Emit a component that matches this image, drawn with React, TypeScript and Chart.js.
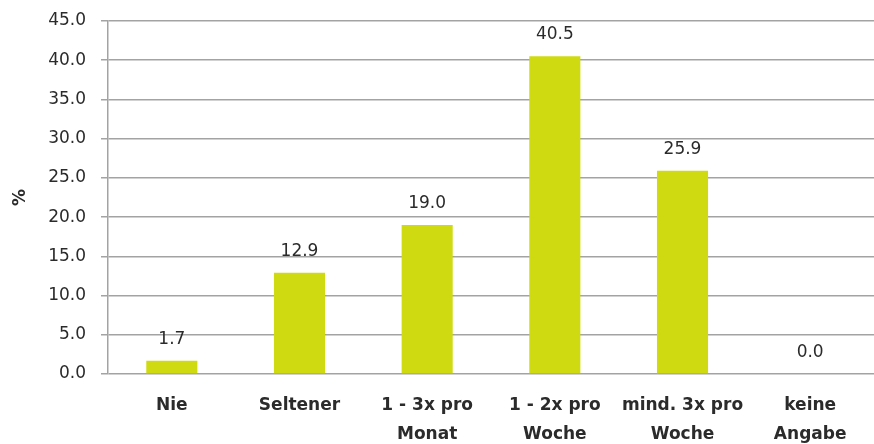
import React, { useEffect, useRef } from "react";
import { Chart, registerables } from "chart.js";

Chart.register(...registerables);

const categories: string[][] = [
  ["Nie"],
  ["Seltener"],
  ["1 - 3x pro", "Monat"],
  ["1 - 2x pro", "Woche"],
  ["mind. 3x pro", "Woche"],
  ["keine", "Angabe"],
];
const values: number[] = [1.7, 12.9, 19.0, 40.5, 25.9, 0.0];
const yTitle = "%";
const yMin = 0;
const yMax = 45;
const yStep = 5;

const FONT = "'DejaVu Sans', Verdana, sans-serif";
const BAR_COLOR = "#cfdb10";
const GRID_COLOR = "#a3a3a3";
const TEXT_COLOR = "#2b2b2b";

const dataLabelPlugin = {
  id: "dataLabels",
  afterDatasetsDraw(chart: any) {
    const ctx = chart.ctx;
    const meta = chart.getDatasetMeta(0);
    ctx.save();
    ctx.font = `17px ${FONT}`;
    ctx.fillStyle = TEXT_COLOR;
    ctx.textAlign = "center";
    ctx.textBaseline = "alphabetic";
    meta.data.forEach((bar: any, i: number) => {
      const v = chart.data.datasets[0].data[i] as number;
      ctx.fillText(v.toFixed(1), bar.x, bar.y - 17);
    });
    ctx.restore();
  },
};

export default function App() {
  const canvasRef = useRef<HTMLCanvasElement | null>(null);

  useEffect(() => {
    document.body.style.margin = "0";
    const canvas = canvasRef.current;
    if (!canvas) return;
    const chart = new Chart(canvas, {
      type: "bar",
      data: {
        labels: categories,
        datasets: [
          {
            data: values,
            backgroundColor: BAR_COLOR,
            borderWidth: 0,
            categoryPercentage: 1,
            barPercentage: 0.4,
          },
        ],
      },
      options: {
        animation: false,
        responsive: true,
        maintainAspectRatio: false,
        layout: { padding: { top: 21, right: 0, bottom: 0, left: 0 } },
        plugins: {
          legend: { display: false },
          tooltip: { enabled: false },
        },
        scales: {
          x: {
            offset: true,
            grid: { display: false, drawTicks: false },
            border: { display: false },
            ticks: {
              color: TEXT_COLOR,
              font: { family: FONT, size: 17, weight: "bold", lineHeight: "29px" } as any,
              padding: 17,
              maxRotation: 0,
              autoSkip: false,
            },
            afterFit: (s: any) => {
              s.height = 70;
              s.paddingLeft = 0;
              s.paddingRight = 0;
            },
          },
          y: {
            min: yMin,
            max: yMax,
            grid: {
              color: GRID_COLOR,
              lineWidth: 1.5,
              drawTicks: true,
              tickLength: 7,
            },
            border: { display: true, color: GRID_COLOR, width: 1.5 },
            ticks: {
              stepSize: yStep,
              color: TEXT_COLOR,
              padding: 15,
              font: { family: FONT, size: 17 },
              callback: (v: any) => Number(v).toFixed(1),
            },
            title: {
              display: true,
              text: yTitle,
              color: TEXT_COLOR,
              font: { family: FONT, size: 17, weight: "bold" },
              padding: { top: 10, bottom: 0 },
            },
            afterFit: (s: any) => {
              s.width = 108;
              s.paddingTop = 0;
              s.paddingBottom = 0;
            },
          },
        },
      },
      plugins: [dataLabelPlugin],
    });
    return () => chart.destroy();
  }, []);

  return (
    <div style={{ position: "relative", width: 874, height: 444 }}>
      <canvas ref={canvasRef} />
    </div>
  );
}
